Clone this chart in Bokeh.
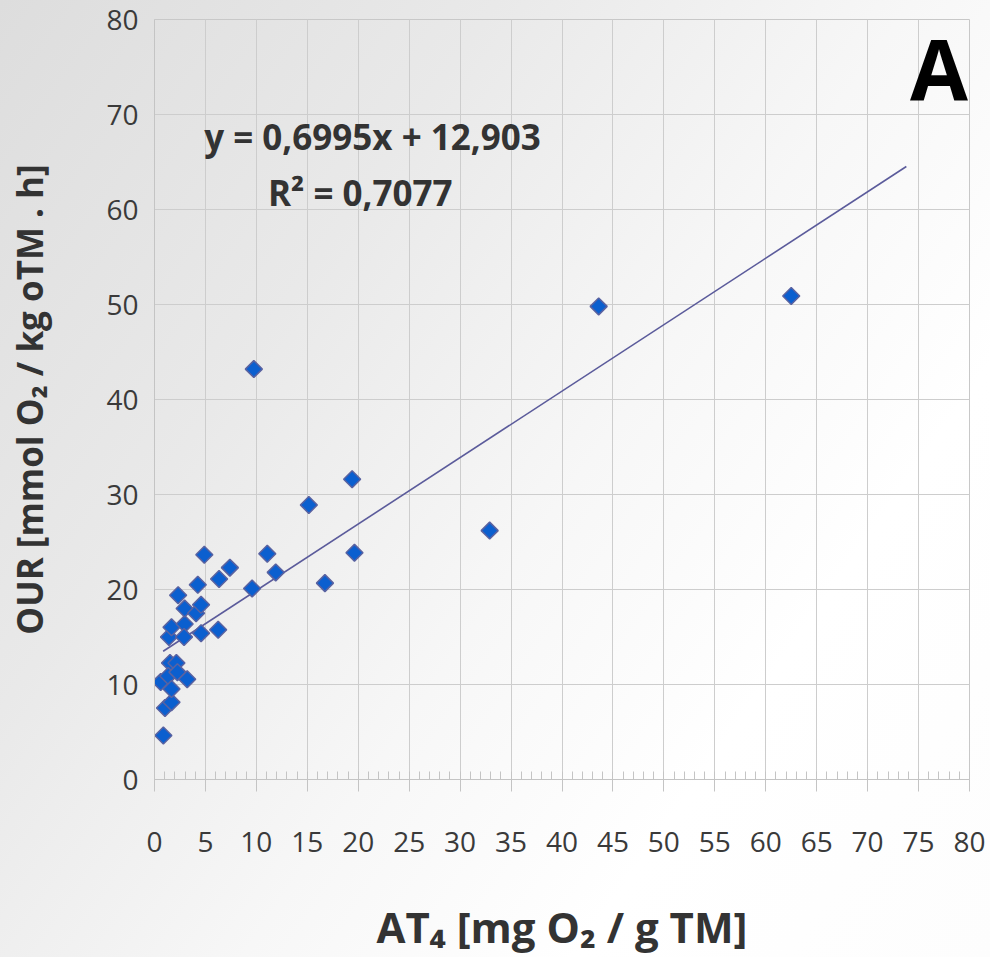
from bokeh.plotting import figure
from bokeh.models import Range1d, SingleIntervalTicker, Label, ColumnDataSource
from bokeh.embed import file_html
from bokeh.resources import INLINE
import math

# Data
at4 = [0.87, 1.03, 1.67, 0.61, 1.52, 2.15, 1.35, 2.25, 1.67, 3.21,
       1.42, 1.67, 2.96, 2.90, 4.57, 6.25, 2.96, 4.08, 4.57, 2.32,
       4.25, 4.89, 6.34, 7.40, 9.58, 11.07, 11.90, 16.73, 19.63,
       9.75, 15.15, 19.40, 32.90, 43.60, 62.50]
our = [4.63, 7.52, 8.14, 10.27, 12.26, 12.26, 10.89, 11.30, 9.52, 10.55,
       15.00, 16.03, 16.37, 15.00, 15.40, 15.76, 18.00, 17.50, 18.40, 19.40,
       20.50, 23.65, 21.10, 22.30, 20.10, 23.76, 21.80, 20.67, 23.86,
       43.20, 28.90, 31.60, 26.20, 49.80, 50.90]

slope = 0.6995
intercept = 12.903
trend_x = [0.85, 73.8]
trend_y = [slope * v + intercept for v in trend_x]

x_ticks_interval = 5
y_ticks_interval = 10

p = figure(width=990, height=957, output_backend="svg", toolbar_location=None,
           x_range=Range1d(0, 80), y_range=Range1d(0, 80),
           min_border_left=154, min_border_right=21, min_border_top=19,
           min_border_bottom=174,
           background_fill_color=None, border_fill_color=None,
           outline_line_color="#c8c8c8",
           styles={"background": "linear-gradient(125deg, #dddddd 0%, #e9e9e9 30%, #f7f7f7 55%, #ffffff 75%, #fdfdfd 100%)"})

p.xaxis.ticker = SingleIntervalTicker(interval=x_ticks_interval, num_minor_ticks=5)
p.yaxis.ticker = SingleIntervalTicker(interval=y_ticks_interval, num_minor_ticks=0)

tick_font = "Open Sans"
for ax in (p.xaxis[0], p.yaxis[0]):
    ax.major_label_text_font = tick_font
    ax.major_label_text_font_size = "28px"
    ax.major_label_text_color = "#3a3a3a"
    ax.axis_line_color = "#c4c4c4"
    ax.major_tick_line_color = "#c4c4c4"
    ax.minor_tick_line_color = "#c4c4c4"
    ax.axis_label_text_font = tick_font
    ax.axis_label_text_font_style = "bold"
    ax.axis_label_text_color = "#333333"

p.xaxis.major_tick_out = 12
p.xaxis.major_tick_in = 0
p.xaxis.minor_tick_in = 8
p.xaxis.minor_tick_out = 0
p.xaxis.major_label_standoff = 40
p.xaxis.axis_label = "AT₄ [mg O₂ / g TM]"
p.xaxis.axis_label_text_font_size = "42px"
p.xaxis.axis_label_standoff = 43

p.yaxis.major_tick_out = 0
p.yaxis.major_tick_in = 0
p.yaxis.minor_tick_in = 0
p.yaxis.minor_tick_out = 0
p.yaxis.major_label_standoff = 16
p.yaxis.axis_label = "OUR [mmol O₂ / kg oTM . h]"
p.yaxis.axis_label_text_font_size = "35px"
p.yaxis.axis_label_standoff = 50

p.xgrid.grid_line_color = "#cdcdcd"
p.ygrid.grid_line_color = "#cdcdcd"

p.line(trend_x, trend_y, line_color="#5b5b9b", line_width=1.6)

src = ColumnDataSource(dict(x=at4, y=our))
p.scatter("x", "y", source=src, marker="square", size=12, angle=math.pi / 4,
          fill_color="#0b5fcf", line_color="#5a62a0", line_width=1.5)

p.add_layout(Label(x=21.4, y=67.7, text="y = 0,6995x + 12,903",
                   text_font=tick_font, text_font_style="bold",
                   text_font_size="35px", text_color="#333333",
                   text_align="center", text_baseline="middle"))
p.add_layout(Label(x=20.2, y=61.8, text="R² = 0,7077",
                   text_font=tick_font, text_font_style="bold",
                   text_font_size="35px", text_color="#333333",
                   text_align="center", text_baseline="middle"))
p.add_layout(Label(x=77.0, y=74.9, text="A",
                   text_font=tick_font, text_font_style="bold",
                   text_font_size="84px", text_color="#000000",
                   text_align="center", text_baseline="middle"))

open("out.html", "w").write(file_html(p, INLINE))
